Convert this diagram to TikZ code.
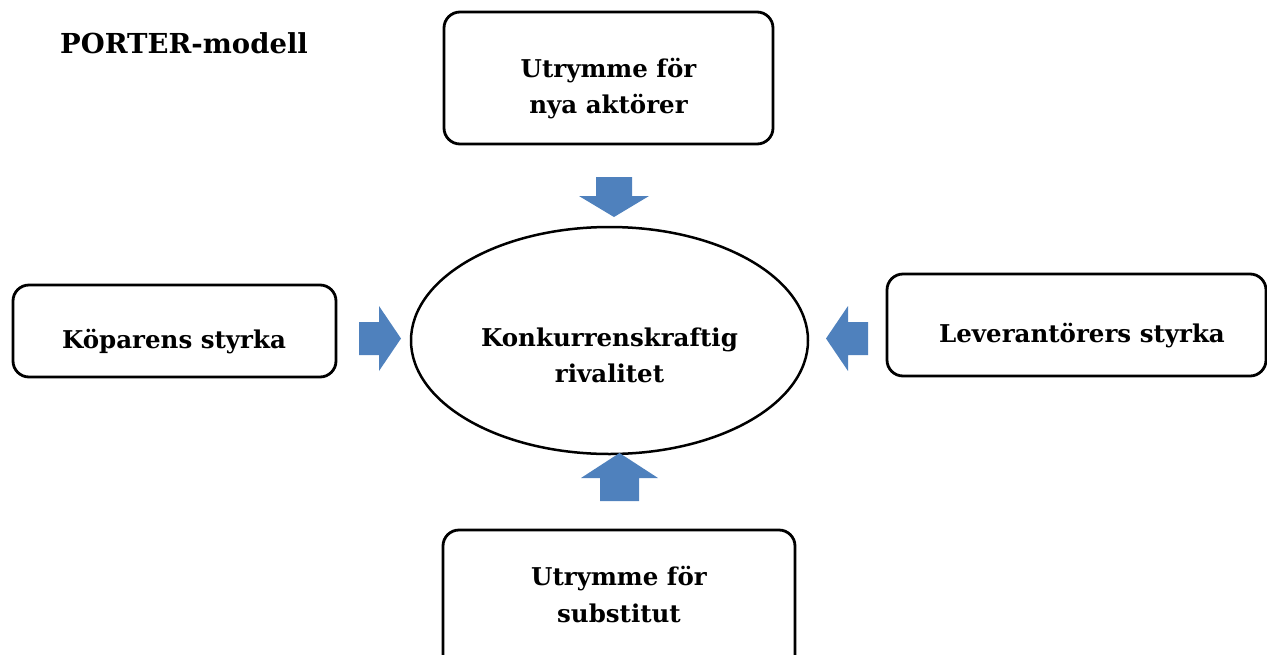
\documentclass[tikz,border=0pt]{standalone}
\usepackage{fontspec}
\setmainfont{DejaVu Serif}
\usetikzlibrary{shapes.geometric}
\definecolor{arrowblue}{RGB}{79,129,189}
\begin{document}
\begin{tikzpicture}[x=1pt,y=-1pt,
  box/.style={draw, line width=2.8pt, rounded corners=16pt, inner sep=0pt},
  lbl/.style={font=\bfseries\fontsize{24.5}{36}\selectfont, anchor=base, inner sep=0pt},
  blockarrow/.style={fill=arrowblue}]
\useasboundingbox (0,0) rectangle (1267,654);
\clip (0,0) rectangle (1267,654);
% title
\node[font=\bfseries\fontsize{27.5}{32}\selectfont, anchor=base west, inner sep=0pt] (title) at (60,53) {PORTER-modell};
% boxes
\node[box, minimum width=329pt, minimum height=132pt] (entrants) at (608.5,78) {};
\node[box, minimum width=323pt, minimum height=92pt] (buyers) at (174.5,331) {};
\node[box, minimum width=379pt, minimum height=102pt] (suppliers) at (1076.5,325) {};
\node[box, minimum width=352pt, minimum height=150pt] (substitutes) at (619,605) {};
\node[ellipse, draw, line width=2.5pt, minimum width=397pt, minimum height=227pt, inner sep=0pt] (rivalry) at (609.5,340.5) {};
% texts
\node[lbl] (t1a) at (608.5,77) {Utrymme för};
\node[lbl] (t1b) at (608.5,113) {nya aktörer};
\node[lbl] (t2) at (174,348) {Köparens styrka};
\node[lbl] (t3) at (1082,342) {Leverantörers styrka};
\node[lbl] (t4a) at (619,585) {Utrymme för};
\node[lbl] (t4b) at (619,622) {substitut};
\node[lbl] (t5a) at (609.5,346) {Konkurrenskraftig};
\node[lbl] (t5b) at (609.5,382) {rivalitet};
% block arrows
\fill[blockarrow] (596,177) -- (632,177) -- (632,196) -- (649,196) -- (614,217) -- (579,196) -- (596,196) -- cycle;
\fill[blockarrow] (359,322) -- (379,322) -- (379,306) -- (401,338.5) -- (379,371) -- (379,355) -- (359,355) -- cycle;
\fill[blockarrow] (868,322) -- (848,322) -- (848,306) -- (826,338.5) -- (848,371) -- (848,355) -- (868,355) -- cycle;
\fill[blockarrow] (600,501) -- (639,501) -- (639,478) -- (658,478) -- (619.5,453) -- (581,478) -- (600,478) -- cycle;
\end{tikzpicture}
\end{document}
